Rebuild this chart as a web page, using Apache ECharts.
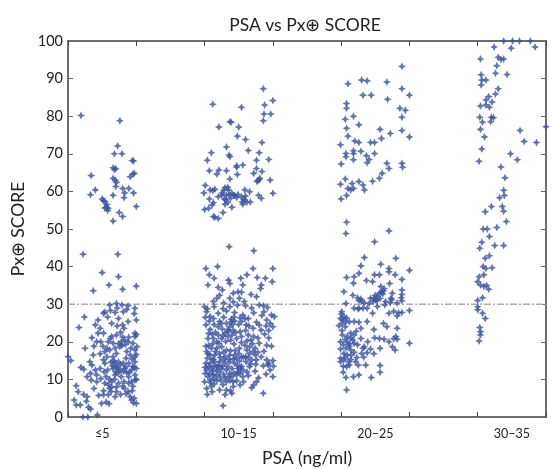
<!DOCTYPE html>
<html><head><meta charset="utf-8">
<script src="https://cdn.jsdelivr.net/npm/echarts@6/dist/echarts.min.js"></script>
<style>html,body{margin:0;padding:0;background:#fff}#c{width:552px;height:469px}</style></head>
<body><div id="c"></div>
<script>
const titleText = 'PSA vs Px\u2295 SCORE';
const xName = 'PSA (ng/ml)';
const yName = 'Px\u2295 SCORE';
const groupLabels = {2.5:'\u22645', 12.5:'10\u201315', 22.5:'20\u201325', 32.5:'30\u201335'};
const cutoff = 30;

const lowHigh = [[.95,80.2],[3.8,78.8],[3.63,72.1],[3.4,70],[3.95,70],[4.7,68.2],[4.8,68.1],[1.7,64.2],[3.3,66.3],[3.5,66],[3.4,65.8],[4.75,64.6],[4.85,64.8],[4.55,63.9],[3.3,63.5],[3.45,63],[3.55,62.4],[3.5,61.3],[4,60.8],[4.45,60.8],[2,60.4],[1.65,59.1],[3.3,59],[4.15,59.6],[4.8,59.6],[4.1,58.3],[2.5,58],[2.6,57.5],[2.7,57.3],[2.85,56.5],[2.8,55.8],[2.95,55.5],[2.9,54.9],[2.7,55.6],[5,56],[3.75,54.4],[4,53.3],[3.3,52.1]];

const lowLow = [[1.1,43.3],[3.65,43.3],[2.5,38.4],[3.7,37.3],[3,35.1],[4,34],[1.85,33.6],[5,34.8],[3.05,29.8],[3.55,30.2],[3.95,29.8],[4.4,29.6],[4.9,28.9],[3.45,27.8],[4.05,28],[2.6,27.6],[2.7,27.9],[1.2,26.6],[2.2,25.8],[2,24.5],[.8,23.8],[3.2,24.9],[4,24.5],[4.1,23.6],[5,25.8],[4.4,25.4],[4.9,22.3],[4.9,21.4],[5,21.9],[2.2,22.3],[2.6,22.3],[3.2,21.4],[1.75,21.1],[2.1,20],[2.4,20],[1.25,18.3],[2.85,18.3],[0,16],[.2,15],[.95,13.2],[1.15,12.7],[.6,8.3],[1.4,10.7],[1.7,9.8],[2.1,9.4],[1.65,11.6],[1.6,14.7],[1.75,13.8],[2,12.5],[2.1,11.2],[.75,6.7],[.45,4.5],[.6,3.2],[.9,3.2],[1.4,5.4],[1.9,7.6],[2.25,5.7],[2.6,5.9],[2.95,5.9],[3.45,5.4],[1.5,2.6],[1.65,2.1],[2.15,.5],[1.1,0],[1.45,0],[2.45,3.6],[3,3.5],[4.55,5.4],[4.65,4.5],[4.8,3.8],[5,3.6],[4.4,6.7],[4.15,7.6],[3.55,6.7],[3.05,7.6],[2.7,9],[3.2,9.4],[3.7,9],[4.1,9.4],[4.65,9.4],[4.9,9.8],[4.45,9],[2.8,10.7],[3.45,11.2],[3.9,10.7],[4.45,10.7],[4.9,11.2],[3.3,12.9],[3.55,13.4],[3.8,12.5],[4.15,12.9],[4.65,12.5],[5,12.9],[3.45,14.3],[3.7,14.7],[4.05,14.3],[4.45,14.3],[4.9,14.7],[2.7,14.3],[2.6,15.2],[2.85,16],[3.3,16],[3.55,16.9],[2.7,17.4],[3.05,17.8],[3.45,18.3],[3.8,18.7],[3.9,20],[4.15,20.5],[4.4,20],[4.6,18.3],[4.9,17.8],[4.55,16.5],[4.9,16],[4.3,17.4],[3.1,20.9],[3.55,21.8],[3.7,19.5],[3.95,19],[4.2,19.3],[3.35,15],[3.6,13],[3.85,13.9],[4.25,15.6],[4.7,15.4],[4.75,13.5],[5,10],[4.75,8.2],[3.2,8],[3.4,10],[2.9,12.5],[2.6,7],[4.3,11.8],[3.7,11.8],
[4.05,12.2],[3.15,14.6],[3.25,13.6],[3.5,12],[4.5,11.9],[4.25,13.4],[4.85,13.2],[5,16.6],[5.05,18.7],[4.75,19.6],[4.45,21.2],[4,21.3],[3.85,22.5],[3.6,24.2],[2.9,26.6],[3.7,26.2],[4.85,27.5],[4.3,28.6],[3.6,29],[3.1,28.3],[2.35,23.6],[1.9,18.8],[1.85,16.5],[2.35,16.8],[2.55,18.8],[2.95,20],[3.3,19.6],[2.35,12.9],[2.65,12],[2.4,10.2],[3.05,10],[2.95,8.6],[3.55,8],[4,8.2],[4.7,7],[4.85,5],[3.85,6],[3.15,6.8],[1.15,6],[1.35,4.2],[2.8,4],[4.25,6.2]];

const midHigh = [[10.6,83.2],[12.7,82.4],[14.3,87.3],[14.4,83],[15,84.2],[14.35,80.6],[14.85,80.6],[14.3,78.8],[11.85,78.5],[11.95,78.4],[11.05,77.1],[12.5,77.1],[12.4,74.7],[13,73.8],[14.2,73],[11.6,71.8],[10.5,70.3],[11.8,69.7],[13.2,70.9],[14,70.3],[14.7,68.5],[10.2,68.3],[13.8,68.3],[12.35,66.8],[12.8,67],[10.35,65.5],[11.05,65.7],[10.9,64.6],[11.6,65.5],[12.4,64.5],[11.85,63.3],[13.6,64.8],[14.2,65.3],[13.8,66.1],[14.05,63.5],[13.85,62.6],[14.8,63],[10.05,61.6],[9.95,59.6],[10.4,60.4],[10.75,60.6],[11.5,61],[11.75,60.4],[12,59.5],[11.25,59],[11,58.6],[11.6,59],[12.45,59.2],[12.95,60.4],[13.3,59.9],[13.95,59],[14.15,58.2],[15,59.5],[10.35,58],[10.65,57],[10,55.2],[10.3,55.5],[11.55,57.7],[11.5,56.6],[12,55.8],[11.35,54.4],[10.65,53.3],[11,52.8],[12.95,57.7],[12.8,56.6],[13.35,57.2],[12.7,58.6],[13,58.8],[11.4,60.3],[11.9,58.2],[12.15,58.9],[10.6,60.2],
[11.7,61.1],[11.3,59.6],[11.8,59.2],[12.2,59],[12.35,58.4],[12.85,58],[13.1,57.1],[12.75,57.2],[11.45,58],[11.7,57.1],[10.55,56.4],[11.85,69.2],[12.35,66.4],[10.75,53.1],[13.9,62.9],[14,63.1]];

const midLow = [[11.8,45.3],[13.6,44.2],[10.1,39.5],[10.95,40],[13.55,39.5],[15,39.5],[10.35,37.8],[10.7,36.9],[13.1,37.8],[10.25,35.1],[11,34.5],[11.75,36.4],[11.85,35.5],[12.65,36.9],[12.8,35.1],[13.85,37.1],[14.45,36.9],[14.95,36],[14.15,35.1],[14.1,34.2],[11.3,33.8],[11.1,32.4],[12.1,32.9],[12.45,33.3],[12.7,33.2],[13.4,32.6],[13.8,32],[10.9,31.6],[11.85,31.6],[10.65,30.7],[12.55,31.6],[13,29.6],[10,29.3],[10.7,29.3],[11.85,29.3],[14,29.8],[14.3,29.6],[10.15,28],[10.4,26.7],[10.65,26.2],[11,27.6],[11.6,28.2],[12.2,27.8],[12.8,27.1],[13.2,26.2],[13.6,27.7],[14.9,27.1],[15.1,26.7],[14.55,25.8],[13.8,25.2],[12.95,26.2],[10.1,24.5],[10.4,23.3],[11,24],[11.6,24.9],[11.85,24],[12.1,23.1],[11.75,22.7],[11.5,22.3],[12.6,22.7],[13.05,24.5],[13.55,23.6],[14.15,23.1],[14.8,24.9],[10.25,20.9],[10.65,20.9],[11,21.8],[12,21.8],[12.35,20.9],[12.7,21.4],[13.2,21.8],[14,19.6],[14.55,19.1],[10.9,20],[11.25,20.9],[10.15,17.4],[10.5,18.3],[10.9,18.3],[11.25,18.7],[11.6,17.8],[12.55,18.3],[12.95,19.1],[13.3,18.7],[13.7,18.3],[10.4,16.5],[10.75,16.5],[11.1,16.9],[11.5,16],[11.85,16.5],[12.5,16.9],[13.3,16.9],[13.7,16.5],[14.15,16],[14.55,15.2],[10.1,14.3],[10.4,14.3],[10.75,14.7],[11.1,14.7],[11.5,14.3],[11.85,14.7],[12.2,14.3],[12.55,14.9],[13.05,14.7],[13.45,15.2],[13.8,15.2],[10.15,12.5],[10.5,12.9],[10.9,12.5],[11.25,12.9],[11.6,12.5],[12,12.9],[12.45,12.9],[12.8,12.5],[13.3,13.4],[14.65,13.8],[14.8,12.5],[15,10.7],[10.25,10.7],[10.6,11.2],[11.1,10.7],[11.5,10.3],[12,10.7],[12.35,11.2],[12.8,10.7],[10,9.4],[10.45,9.8],[10.9,9.7],[11.6,9.4],[12.1,9.4],[13.8,9.4],[13.6,8.5],[13.45,7.8],[10.15,7.6],[10.5,8.1],[11.1,7.2],[11.6,7.2],[12.1,8.1],[12.6,8.5],[10.2,6],[11.5,5.9],[12,6.3],[14.3,6.3],[11.35,3],
[10.3,19],[10.6,19.5],[10.8,22.5],[10.3,22.2],[10.2,15.6],[10.55,15.3],[10.9,13.4],[11.3,13.5],[11.7,13.4],[12.1,15.4],[12.4,13.7],[12.7,13.5],[13,16],[13.1,17.8],[13.5,19.5],[13.9,17.2],[14.35,17.5],[14.7,14.3],[15,15],[15.05,13.5],[14.9,18.8],[14.4,22],[14.7,23],[15,24],[13.9,21],[13.4,20.5],[13,23],[12.5,24.6],[12.2,25.5],[11.95,26],[11.4,26.5],[11.7,23.2],[11.3,23.4],[10.7,24.6],[10.35,25.5],[10.05,26.5],[10.2,28.8],[14.35,28],[14.6,29.1],[14.2,27],[13.45,29],[12.4,29.7],[12.1,30.6],[11.4,30.3],[12.9,30.7],[11.35,28.8],[11.1,25.4],[11.9,20.4],[11.55,20.1],[12.15,19.4],[11.9,17.6],[12.25,17.7],[12.85,15.8],[13.1,12],[12.6,11.6],[11.85,11.6],[11.4,11.3],[10.85,11.2],[10.05,11.6],[10.05,13.2],[10.1,18.8],[10.7,8.8],[11.35,8.6],[11.85,9.7],[12.35,9.6],[12.85,9.4],[13.2,11],[11.9,7],[10.55,6.7],[13.95,10.4],[13.7,12.2],[14.3,13.6],[14.5,11.4],
[10.3,13.4],[10.7,13.6],[11.05,13.7],[11.4,15.2],[11.75,15.4],[12.35,15.6],[12.7,16],[13.2,15.8],[13.55,17.4],[12.2,16.4],[10.8,17.4],[10.25,16.8],[10.65,15.3],[11.15,15.8],[11.4,17.2],[11.05,19.6],[11.35,21.6],[11.7,21.4],[12.25,22.4],[12.7,19.8],[13.1,20.2],[13.6,21.4],[13.25,24.2],[12.05,24.6],[11.95,25.3],[11.2,24.9],[10.55,22],[12.45,12],[12.15,11.7],[11.75,10.7],[11.2,9.7],[10.35,11.5],[10.6,12.2],[10.7,10.2],[10.4,9.2],[11.1,11.9],[12.65,13],[13.35,14.1],[13.75,14],[12.15,26.6],[12.6,26.4],[12.7,25.4],[14,24.5],[14.5,24.2],[14.7,21]];

const highHigh = [[24.45,93.2],[20.5,88.6],[21.5,89.6],[21.9,89.4],[23.35,89.1],[24.45,87.3],[21.6,85.6],[22.2,85.6],[25,85.6],[23.4,84.5],[20.4,83.4],[20.4,82.1],[24.3,82.1],[24.7,81.6],[20.9,80],[20.3,79.2],[20.4,76.8],[21.3,77.7],[24.45,79.7],[22.85,76.5],[24.45,76.2],[23.6,75.4],[20.5,74.7],[25,74.5],[22.95,74.1],[21,73.4],[21.3,73],[22.15,73],[22.45,73],[19.95,72.4],[20.9,70.8],[20.9,70.1],[20.35,70.1],[20.35,69.2],[21.45,70.7],[21.85,69.5],[22.45,70.1],[20.9,68.4],[22.05,68.5],[21.9,67.6],[20,67.3],[23.35,67.5],[23.5,66.1],[24.45,67.5],[24.5,66.4],[23,64.8],[22.8,63.5],[22.3,62.7],[20.3,63.3],[19.95,61.9],[21.3,62.6],[21.6,61.7],[21.7,60.4],[20.8,62.1],[20.5,60.8],[20.7,60.4],[20.9,60.8],[20.4,58.9],[20,58],[20.4,51.8],[20.35,48.8],[23.5,49.5]];

const highLow = [[22.45,46.6],[21.7,42.4],[24,42.2],[22.9,40.6],[21.45,40.2],[25,39],[23.5,39.5],[23.5,38.6],[23.95,37.8],[20.4,37.1],[20.95,37.3],[21.3,38.2],[22.45,37.8],[22.8,37.8],[24.45,36.6],[21.85,36.3],[22.3,36],[20.9,35.6],[23.55,35.5],[22.9,34.7],[23.15,34.2],[20.2,33.3],[24.45,33.8],[24.45,32.6],[23.75,32.9],[20.85,32.4],[22.5,32.4],[22.8,32.9],[21.2,31.7],[21.45,31.4],[22.15,31.6],[22.4,31.6],[22.65,32],[23.65,31.6],[24.45,30.9],[23.25,30.7],[20.35,30.2],[22.05,30.2],[23.2,29.8],[21.9,28.9],[20.95,28.9],[21.3,28.9],[24.45,27.8],[25,28.3],[23.5,27.6],[22.3,27.6],[24.1,26.9],[20,27.4],[19.95,26.2],[20.2,26.7],[20.35,25.4],[19.85,24.3],[20.1,24.9],[20.3,24],[20.95,25.4],[21.3,25.2],[21.9,25.4],[21.45,23.6],[23.1,24.9],[23.35,24],[24.1,23.6],[22.4,23.3],[20.1,21.8],[20.7,22.3],[20.95,21.8],[20.45,21.4],[21.45,20.9],[22.45,21.1],[22.8,20.9],[23.15,20.7],[24,21.4],[23.85,20.8],[24.1,20.7],[25,19.6],[19.95,20],[20.45,19.9],[20.95,19.6],[21.95,20],[21.7,18.7],[23.5,20],[23.75,18.7],[23.95,17.8],[22.85,18.3],[19.95,18.1],[20.35,18.3],[20.7,17.8],[21.6,18.3],[22.4,16.8],[20.2,16.9],[20.45,16.5],[19.95,15.6],[21.15,15.8],[21.65,15.9],[20.2,15.2],[20.55,14.7],[19.95,14.7],[21.05,14.7],[21.8,13.8],[21.25,13.8],[20.4,13.4],[22.85,13.7],[22.85,11.9],[20.15,11.9],[20.35,10.5],[20.9,10.7],[21.3,11.2],[22.2,10.5],[20.4,7.2],
[20.05,28],[20.1,25.8],[20.4,26.3],[20.6,25.3],[20.05,23],[20.6,19.4],[20.7,21],[20.85,20.5],[20.3,20.6],[20.15,19.2],[20.6,18.8],[20.75,16.5],[20.3,15.8],[20.7,15.3],[20.15,13.5],[20.6,13.8],[20.95,17.2],[21.1,22.8],[21.2,19.2],[21.9,17.1],[22.15,18.1],[21.5,16.9],[22.65,31.1],[22.85,31.5],[22.55,31],[22.95,33.2],[23.05,32.7],[23.1,33.6],[22.35,30.7],[21.7,30.3],[21.3,31],[21.5,30.8],[21.25,28.7],[21.6,28.9],[23.7,31.2],[24.4,31.7],[24.1,30.3],[23.6,30.4],[22.65,29.4],[23.85,28.1],[24.2,27.7]];

const topHigh = [[31.9,100],[32.55,100],[33.05,100],[33.85,100],[31.2,98.4],[32.45,98.1],[34.2,98.4],[30.2,95.2],[31.5,95.7],[31.7,95.1],[31.9,95.2],[31.4,93.4],[31.3,91.4],[32.15,91.1],[30.25,91],[30.6,89.6],[30.25,88.3],[30.3,89.6],[31.5,87.3],[31.3,85.9],[30.8,85.2],[30.6,84.3],[31.05,83.8],[30.2,82.7],[30.6,83],[30.85,82.4],[30.15,79.7],[31,79.7],[31.15,79.6],[30.35,78.4],[30.95,78.5],[30.2,76.5],[30.5,74.5],[33.1,76.2],[35,77.2],[33.4,73.3],[34.3,73],[30.3,71.3],[32.4,70],[32.9,68.4],[30.1,68],[31.7,66.5],[32,63.6],[31.9,60.3],[31.95,58.9],[31.6,58.3],[31,56],[30.55,54.6],[31.8,56],[31.9,54.7],[32.1,52],[30.4,50],[30.7,50],[31.4,50.4]];

const topLow = [[30.85,48],[30.15,44.9],[30.3,46.5],[31.25,45.6],[31.9,45.6],[30.55,42.2],[30.85,42.9],[30.4,40],[30.6,39.5],[31.05,39.7],[30.1,37.3],[30.45,37.8],[30,36],[30.2,35.1],[30.45,34.7],[30.8,34],[30.65,35],[30.35,31.7],[30,31],[30,29.3],[30,28.5],[30.35,27.6],[30.55,26.2],[30.15,23.8],[30.2,22.7],[30.2,21.8],[30.1,20.2]];

const points = [].concat(lowHigh, lowLow, midHigh, midLow, highHigh, highLow, topHigh, topLow);
const font = 'Lato';
const star = 'path://M5 0 L6.6 3.4 L10 5 L6.6 6.6 L5 10 L3.4 6.6 L0 5 L3.4 3.4 Z';
const axisColor = '#6f6f6f';
const line = {show:true, onZero:false, lineStyle:{color:axisColor, width:2}};
const g = {left:68, top:41, width:478, height:376, outerBoundsMode:'none', containLabel:false};
const chart = echarts.init(document.getElementById('c'), null, {renderer:'canvas'});
chart.setOption({
  animation:false,
  title:{text:titleText, left:300, top:11, textAlign:'center', textStyle:{fontFamily:font, fontWeight:'normal', fontSize:17.5, color:'#222'}},
  grid:g,
  xAxis:[
    {type:'value', min:0, max:35, interval:5, position:'bottom', name:xName, nameLocation:'middle', nameGap:32,
     nameTextStyle:{fontFamily:font, fontSize:17.5, color:'#222'}, axisLine:line, splitLine:{show:false},
     axisTick:{inside:true, length:5, lineStyle:{color:'#444'}}, axisLabel:{show:false}},
    {type:'value', min:0, max:35, interval:2.5, position:'bottom', axisLine:{show:false}, axisTick:{show:false}, splitLine:{show:false},
     axisLabel:{show:true, margin:10, hideOverlap:false, showMinLabel:true, showMaxLabel:true, fontFamily:font, fontSize:12.5, color:'#222', formatter:v=>groupLabels[v]||''}},
    {type:'value', min:0, max:35, interval:5, position:'top', axisLine:line, splitLine:{show:false},
     axisTick:{inside:true, length:5, lineStyle:{color:'#444'}}, axisLabel:{show:false}}
  ],
  yAxis:[
    {type:'value', min:0, max:100, interval:10, position:'left', name:yName, nameLocation:'middle', nameGap:34, nameRotate:90,
     nameTextStyle:{fontFamily:font, fontSize:17.5, color:'#222'}, axisLine:line, splitLine:{show:false},
     axisTick:{inside:true, length:5, lineStyle:{color:'#666'}}, axisLabel:{margin:5, fontFamily:font, fontSize:14.5, color:'#222'}},
    {type:'value', min:0, max:100, interval:10, position:'right', axisLine:line, splitLine:{show:false},
     axisTick:{inside:true, length:5, lineStyle:{color:'#666'}}, axisLabel:{show:false}}
  ],
  series:[
    {type:'line', data:[[0,cutoff],[35,cutoff]], symbol:'none', silent:true, lineStyle:{color:'#b0aca4', width:1.5, type:[7,2,2,2]}, z:1},
    {type:'scatter', data:points, clip:false, symbol:star, symbolSize:8, itemStyle:{color:'#3a52a3'}, z:3}
  ]
});
</script></body></html>
